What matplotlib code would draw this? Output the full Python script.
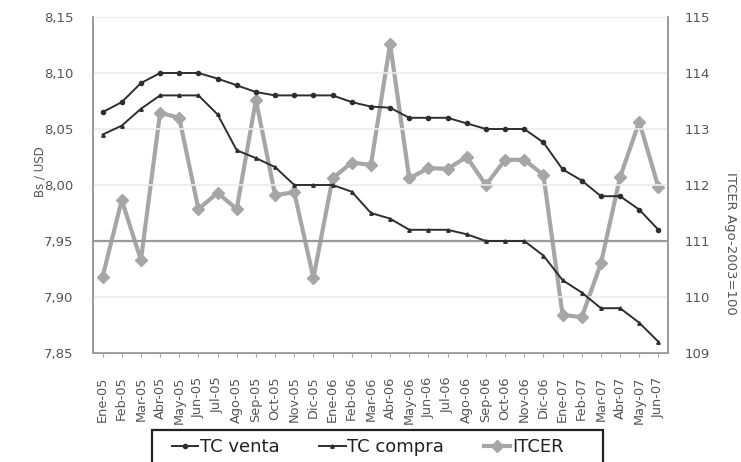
import numpy as np
import matplotlib
matplotlib.use('Agg')
import matplotlib.pyplot as plt
import matplotlib.transforms as mtransforms
from matplotlib.patches import Rectangle
from matplotlib.ticker import FuncFormatter

# meses
meses = ['Ene-05', 'Feb-05', 'Mar-05', 'Abr-05', 'May-05', 'Jun-05', 'Jul-05', 'Ago-05',
         'Sep-05', 'Oct-05', 'Nov-05', 'Dic-05', 'Ene-06', 'Feb-06', 'Mar-06', 'Abr-06',
         'May-06', 'Jun-06', 'Jul-06', 'Ago-06', 'Sep-06', 'Oct-06', 'Nov-06', 'Dic-06',
         'Ene-07', 'Feb-07', 'Mar-07', 'Abr-07', 'May-07', 'Jun-07']

# tipo de cambio (Bs / USD)
tc_venta = [8.065, 8.074, 8.091, 8.10, 8.10, 8.10, 8.095, 8.089, 8.083, 8.08,
            8.08, 8.08, 8.08, 8.074, 8.07, 8.069, 8.06, 8.06, 8.06, 8.055,
            8.05, 8.05, 8.05, 8.038, 8.014, 8.004, 7.99, 7.99, 7.978, 7.96]
tc_compra = [8.045, 8.053, 8.068, 8.08, 8.08, 8.08, 8.063, 8.031, 8.024, 8.016,
             8.00, 8.00, 8.00, 7.994, 7.975, 7.97, 7.96, 7.96, 7.96, 7.956,
             7.95, 7.95, 7.95, 7.937, 7.915, 7.904, 7.89, 7.89, 7.877, 7.86]

# indice ITCER (eje derecho)
itcer = [110.36, 111.73, 110.66, 113.29, 113.2, 111.57, 111.86, 111.57, 113.52, 111.82,
         111.87, 110.34, 112.12, 112.4, 112.36, 114.52, 112.12, 112.3, 112.29, 112.5,
         112.0, 112.45, 112.45, 112.18, 109.68, 109.64, 110.6, 112.14, 113.13, 111.96]

plt.rcParams['font.family'] = ['DejaVu Sans']
gris = '#555555'
W, H = 741, 462

fig = plt.figure(figsize=(W / 100, H / 100), dpi=100)
ax = fig.add_axes([93 / W, 1 - 353 / H, 575 / W, 336 / H])
ax2 = ax.twinx()

x = np.arange(len(meses))

# grilla
for v in np.arange(7.85, 8.151, 0.05):
    if abs(v - 7.95) < 1e-6:
        ax.axhline(v, color='#9a9a9a', lw=1.6, zorder=0)
    else:
        ax.axhline(v, color='#ebebeb', lw=1.2, zorder=0)

l1, = ax.plot(x, tc_venta, color='#2e2e2e', lw=1.4, marker='o', ms=3, label='TC venta', zorder=3)
l2, = ax.plot(x, tc_compra, color='#2e2e2e', lw=1.4, marker='^', ms=2.5, label='TC compra', zorder=3)
l3, = ax2.plot(x, itcer, color='#a6a6a6', lw=3, marker='D', ms=6.5, label='ITCER', zorder=2)

ax.set_xlim(-0.5, len(meses) - 0.5)
ax.set_ylim(7.85, 8.15)
ax2.set_ylim(109, 115)
ax.set_yticks(np.arange(7.85, 8.151, 0.05))
ax2.set_yticks(range(109, 116))
ax.yaxis.set_major_formatter(FuncFormatter(lambda v, p: ('%.2f' % v).replace('.', ',')))

ax.set_xticks(x)
ax.set_xticklabels(meses, rotation=90, fontsize=9.3, color=gris)
desplaza = mtransforms.ScaledTranslation(7 / 100, 0, fig.dpi_scale_trans)
for lab in ax.get_xticklabels():
    lab.set_transform(lab.get_transform() + desplaza)
ax.tick_params(axis='x', length=3, color='#aaaaaa', pad=14)
ax.tick_params(axis='y', labelsize=9.5, labelcolor=gris, length=0, pad=14)
ax2.tick_params(axis='y', labelsize=9.5, labelcolor=gris, length=0, pad=12)

for a in (ax, ax2):
    a.spines['top'].set_visible(False)
    for s in ('left', 'right', 'bottom'):
        a.spines[s].set_color('#999999')
        a.spines[s].set_linewidth(1.2)

fig.text(40 / W, 1 - 172 / H, 'Bs / USD', fontsize=8.5, color=gris, rotation=90,
         ha='center', va='center')
fig.text(731 / W, 1 - 243 / H, 'ITCER Ago-2003=100', fontsize=9.5, color=gris, rotation=270,
         ha='center', va='center')

# el ITCER va por debajo de las lineas de TC
ax.set_zorder(ax2.get_zorder() + 1)
ax.patch.set_visible(False)

# recuadro de la leyenda (sale por el borde inferior)
fig.patches.append(Rectangle((152 / W, -10 / H), 451 / W, (H - 430 + 10) / H,
                             transform=fig.transFigure, fill=False, edgecolor='#222222',
                             lw=1.6))
leg = fig.legend([l1, l2, l3], ['TC venta', 'TC compra', 'ITCER'], loc='center left',
                 bbox_to_anchor=(172 / W, 1 - 447 / H), ncol=3, fontsize=13,
                 frameon=False, handlelength=1.45, handletextpad=0.1, columnspacing=2.2,
                 borderpad=0, borderaxespad=0)
for t in leg.get_texts():
    t.set_color('#222222')

fig.savefig('out.png', dpi=100)
